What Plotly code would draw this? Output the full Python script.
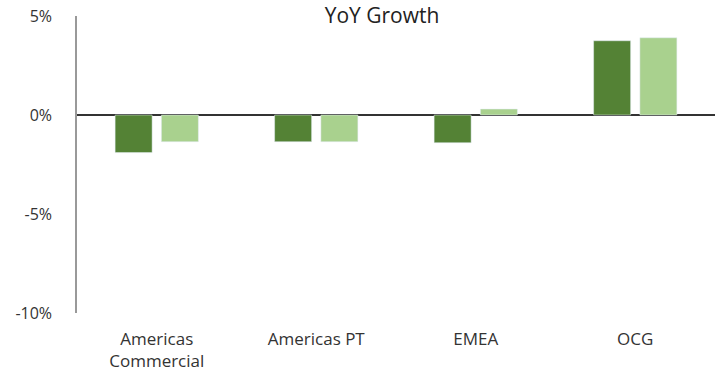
import plotly.graph_objects as go

categories = ["Americas<br>Commercial", "Americas PT", "EMEA", "OCG"]
series_a = [-1.9, -1.35, -1.4, 3.75]
series_b = [-1.35, -1.35, 0.3, 3.9]
tick_vals = [-10, -5, 0, 5]
tick_text = ["-10%", "-5%", "0%", "5%"]

fig = go.Figure()
fig.add_trace(go.Bar(x=categories, y=series_a, marker_color="#548235", name="A"))
fig.add_trace(go.Bar(x=categories, y=series_b, marker_color="#A9D18E", name="B"))

fig.update_layout(
    width=719, height=380,
    margin=dict(l=77, r=4, t=16, b=67),
    plot_bgcolor="white", paper_bgcolor="white",
    showlegend=False,
    barmode="group", bargap=0.42, bargroupgap=0.2,
    font=dict(family="Open Sans, sans-serif", size=16, color="#333333"),
    title=dict(text="YoY Growth", x=382/719, xanchor="center", y=1 - 16/380, yanchor="middle",
               yref="container", font=dict(size=21, color="#222222")),
)
fig.update_yaxes(range=[-10, 5], tickvals=tick_vals, ticktext=tick_text,
                 showgrid=False, showline=True, linecolor="#999999", linewidth=1.5,
                 zeroline=True, zerolinecolor="#333333", zerolinewidth=2,
                 ticks="", ticklabelstandoff=20)
fig.update_xaxes(showgrid=False, showline=False, ticks="", ticklabelstandoff=14,
                 tickfont=dict(size=17))

fig.write_html("out.html")
